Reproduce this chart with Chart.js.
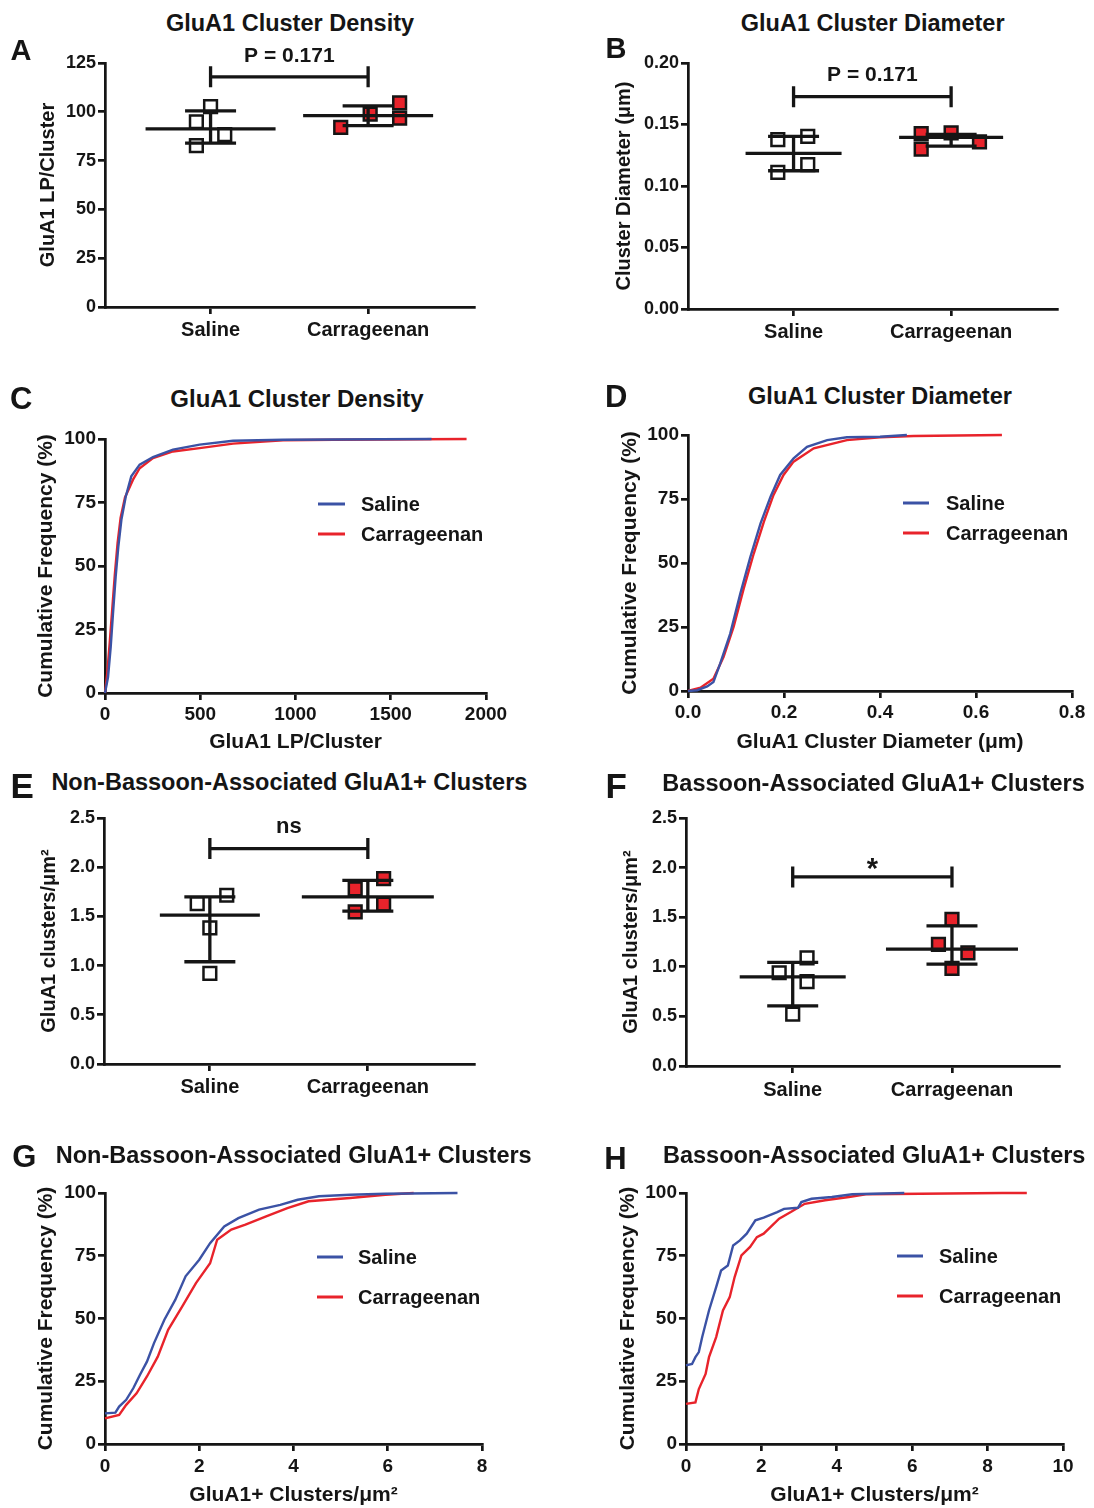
<!DOCTYPE html>
<html>
<head>
<meta charset="utf-8">
<script src="https://cdn.jsdelivr.net/npm/chart.js@4.4.1/dist/chart.umd.min.js"></script>
<style>
  body { margin: 0; background: #fff; width: 1094px; height: 1508px; position: relative; overflow: hidden; }
  canvas { position: absolute; }
  .txt { position: absolute; font-family: "Liberation Sans", Arial, sans-serif; font-weight: bold; color: #151515; line-height: 1; white-space: nowrap; }
</style>
</head>
<body>
<script>
const categories = ['Saline', 'Carrageenan'];

// A - GluA1 LP per cluster, one point per animal
const densSaline = [102.6, 94.9, 88.3, 82.7];
const densCarr = [92.0, 98.8, 104.6, 96.8];
const densMedian = [91.3, 98.0];
const densQ1 = [84.0, 92.9];
const densQ3 = [100.5, 103.0];

// B - cluster diameter (um)
const diamSaline = [0.1377, 0.1404, 0.1111, 0.1173];
const diamCarr = [0.1425, 0.1300, 0.1431, 0.1358];
const diamMedian = [0.1266, 0.1396];
const diamQ1 = [0.1124, 0.1325];
const diamQ3 = [0.1404, 0.1420];

// E - non-bassoon-associated clusters / um2
const nonBsnSaline = [1.63, 1.715, 1.384, 0.92];
const nonBsnCarr = [1.78, 1.546, 1.884, 1.624];
const nonBsnMedian = [1.512, 1.698];
const nonBsnQ1 = [1.039, 1.553];
const nonBsnQ3 = [1.698, 1.867];

// F - bassoon-associated clusters / um2
const bsnSaline = [0.94, 1.09, 0.85, 0.523];
const bsnCarr = [1.477, 1.225, 1.141, 0.983];
const bsnMedian = [0.899, 1.178];
const bsnQ1 = [0.607, 1.027];
const bsnQ3 = [1.044, 1.413];

// significance brackets for A, B, E, F
const sigLabels = ['P = 0.171', 'P = 0.171', 'ns', '*'];
const sigLevels = [117.9, 0.1726, 2.189, 1.906];

// C - cumulative frequency of LP/cluster
const densCdfSalX = [0, 16, 30, 42, 56, 70, 86, 109, 138, 182, 252, 357, 497, 672, 935, 1714];
const densCdfSalY = [0, 6.3, 18.2, 31.3, 45.8, 57.6, 68.2, 77.4, 85.3, 89.9, 92.9, 95.8, 97.8, 99.3, 99.7, 100];
const densCdfCarX = [0, 12, 25, 38, 52, 66, 82, 105, 147, 182, 252, 357, 497, 672, 935, 1198, 1898];
const densCdfCarY = [0, 8, 20, 33, 47, 59, 69, 77, 84, 88.5, 92.5, 95.1, 96.4, 98.2, 99.5, 99.7, 100];

// D - cumulative frequency of diameter
const diamCdfSalX = [0, 0.019, 0.04, 0.053, 0.067, 0.088, 0.109, 0.13, 0.151, 0.172, 0.192, 0.22, 0.248, 0.29, 0.331, 0.4, 0.456];
const diamCdfSalY = [0, 0.3, 1.8, 3.5, 10.7, 22.4, 38.1, 52.4, 65.4, 75.9, 84.4, 90.9, 95.4, 98, 99.1, 99.3, 100];
const diamCdfCarX = [0, 0.026, 0.053, 0.074, 0.095, 0.116, 0.137, 0.158, 0.178, 0.199, 0.22, 0.262, 0.331, 0.4, 0.47, 0.654];
const diamCdfCarY = [0, 1.3, 4.8, 13.3, 25, 40, 53.7, 66.1, 76.5, 84.4, 89.6, 94.8, 98, 99.1, 99.6, 100];

// G - cumulative frequency, non-bassoon-associated
const nonBsnCdfSalX = [0, 0.22, 0.3, 0.45, 0.6, 0.74, 0.89, 1.04, 1.26, 1.49, 1.71, 2.0, 2.23, 2.53, 2.83, 3.27, 3.72, 4.09, 4.54, 5.2, 5.95, 7.48];
const nonBsnCdfSalY = [12.2, 12.5, 14.9, 17.6, 22.2, 27.5, 32.8, 40.2, 49.5, 57.4, 66.8, 73.4, 80, 86.7, 90, 93.4, 95.3, 97.3, 98.7, 99.3, 99.7, 100];
const nonBsnCdfCarX = [0, 0.3, 0.45, 0.67, 0.89, 1.12, 1.34, 1.64, 1.93, 2.23, 2.38, 2.68, 2.98, 3.42, 3.87, 4.32, 5.2, 5.95, 6.55];
const nonBsnCdfCarY = [10.2, 11.6, 15.6, 20.2, 26.9, 34.8, 45.5, 54.8, 64.1, 72, 81.4, 85.4, 87.4, 90.7, 94, 96.7, 98, 99.3, 100];

// H - cumulative frequency, bassoon-associated
const bsnCdfSalX = [0, 0.16, 0.25, 0.34, 0.43, 0.61, 0.8, 0.93, 1.11, 1.25, 1.43, 1.61, 1.84, 2.06, 2.42, 2.6, 2.97, 3.06, 3.33, 3.87, 4.41, 5.79];
const bsnCdfSalY = [31.3, 31.9, 34.6, 36.6, 42.6, 53.2, 62.5, 69.1, 71.1, 79.1, 81.1, 83.8, 89.1, 90.2, 92.4, 93.7, 94.1, 96.4, 97.7, 98.4, 99.5, 100];
const bsnCdfCarX = [0, 0.25, 0.34, 0.52, 0.61, 0.8, 0.98, 1.16, 1.29, 1.47, 1.7, 1.88, 2.06, 2.24, 2.47, 2.78, 3.15, 3.69, 4.32, 4.77, 8.39, 9.04];
const bsnCdfCarY = [16, 16.6, 21.9, 27.9, 34.6, 42.6, 53.2, 58.5, 66.5, 75.1, 78.5, 82.4, 83.8, 86.4, 89.8, 92.4, 95.7, 97.1, 98.4, 99.5, 100, 100];

const panelLetters = ['A', 'B', 'C', 'D', 'E', 'F', 'G', 'H'];
const panelTitles = ['GluA1 Cluster Density', 'GluA1 Cluster Diameter', 'GluA1 Cluster Density', 'GluA1 Cluster Diameter',
  'Non-Bassoon-Associated GluA1+ Clusters', 'Bassoon-Associated GluA1+ Clusters',
  'Non-Bassoon-Associated GluA1+ Clusters', 'Bassoon-Associated GluA1+ Clusters'];

const FONT = '"Liberation Sans", Arial, sans-serif';
const INK = '#151515';
const BLUE = '#3b52a5';
const RED = '#e8232b';

function bold(size) {
  return { family: FONT, size: size, weight: 'bold' };
}

// median + interquartile range and the significance bracket
const summaryPlugin = {
  id: 'summary',
  afterDatasetsDraw(chart, args, o) {
    const ctx = chart.ctx;
    const x = chart.scales.x, y = chart.scales.y;
    ctx.save();
    ctx.strokeStyle = INK;
    ctx.lineWidth = 3.3;
    o.median.forEach((m, g) => {
      const cx = x.getPixelForValue(g + 1);
      const half = o.medianHalf[g];
      const ym = y.getPixelForValue(m);
      const y1 = y.getPixelForValue(o.q1[g]);
      const y3 = y.getPixelForValue(o.q3[g]);
      ctx.beginPath();
      ctx.moveTo(cx - half, ym); ctx.lineTo(cx + half, ym);
      ctx.moveTo(cx, y1); ctx.lineTo(cx, y3);
      ctx.moveTo(cx - 25.5, y1); ctx.lineTo(cx + 25.5, y1);
      ctx.moveTo(cx - 25.5, y3); ctx.lineTo(cx + 25.5, y3);
      ctx.stroke();
    });
    const bx0 = x.getPixelForValue(1), bx1 = x.getPixelForValue(2);
    const by = y.getPixelForValue(o.sigLevel);
    ctx.beginPath();
    ctx.moveTo(bx0, by); ctx.lineTo(bx1, by);
    ctx.moveTo(bx0, by - 10.5); ctx.lineTo(bx0, by + 10.5);
    ctx.moveTo(bx1, by - 10.5); ctx.lineTo(bx1, by + 10.5);
    ctx.stroke();
    ctx.fillStyle = INK;
    ctx.font = 'bold ' + o.sigSize + 'px ' + FONT;
    ctx.textAlign = 'center';
    ctx.textBaseline = 'alphabetic';
    ctx.fillText(o.sigLabel, (bx0 + bx1) / 2, by - o.sigGap);
    ctx.restore();
  }
};

// legend inside the plot area of the cumulative plots
const cdfLegend = {
  id: 'cdfLegend',
  afterDraw(chart, args, o) {
    const ctx = chart.ctx, a = chart.chartArea;
    ctx.save();
    ctx.font = 'bold 20px ' + FONT;
    ctx.textBaseline = 'middle';
    ctx.textAlign = 'left';
    chart.data.datasets.forEach((ds, i) => {
      const yy = a.top + o.top + i * o.gap;
      const x0 = a.left + o.left;
      ctx.strokeStyle = ds.borderColor;
      ctx.lineWidth = 3;
      ctx.beginPath(); ctx.moveTo(x0, yy); ctx.lineTo(x0 + o.len, yy); ctx.stroke();
      ctx.fillStyle = INK;
      ctx.fillText(ds.label, x0 + o.len + o.textGap, yy + 1);
    });
    ctx.restore();
  }
};

function addCanvas(box) {
  const c = document.createElement('canvas');
  c.width = box.w;
  c.height = box.h;
  c.style.left = box.x + 'px';
  c.style.top = box.y + 'px';
  document.body.appendChild(c);
  return c;
}

function axisLine() {
  return {
    grid: { display: true, drawOnChartArea: false, drawTicks: true, tickLength: 7, lineWidth: 2.7, color: INK },
    border: { display: true, width: 2.7, color: INK }
  };
}

function yScale(p) {
  return Object.assign({
    type: 'linear', min: p.yMin, max: p.yMax,
    ticks: { stepSize: p.yStep, font: bold(p.tickSize), color: INK, padding: 2, callback: v => v.toFixed(p.yDec) },
    title: { display: true, text: p.yTitle, font: bold(p.titleSize), color: INK, padding: { top: p.yTitlePad, bottom: 0 } },
    afterFit: s => { s.width = p.yw; }
  }, axisLine());
}

function dotChart(p) {
  const canvas = addCanvas(p.box);
  const datasets = [p.saline, p.carr].map((vals, g) => ({
    label: categories[g],
    data: vals.map((v, i) => ({ x: g + 1 + p.jitter[g][i], y: v })),
    pointStyle: 'rect',
    pointRadius: 9,
    pointHoverRadius: 9,
    pointBackgroundColor: g ? RED : '#ffffff',
    pointBorderColor: INK,
    pointBorderWidth: 2.5,
    showLine: false,
    clip: false
  }));
  return new Chart(canvas, {
    type: 'scatter',
    data: { datasets: datasets },
    options: {
      responsive: false,
      animation: false,
      layout: { padding: { top: p.padTop, right: p.padRight, left: 0, bottom: 0 } },
      scales: {
        x: Object.assign({
          type: 'linear', min: 0.33, max: 2.672,
          afterBuildTicks: s => { s.ticks = categories.map((c, i) => ({ value: i + 1 })); },
          ticks: { font: bold(20), color: INK, padding: p.xPad, callback: v => categories[v - 1] },
          afterFit: s => { s.height = p.xh; }
        }, axisLine()),
        y: yScale(Object.assign({ titleSize: 20, tickSize: 18 }, p))
      },
      plugins: {
        legend: { display: false },
        tooltip: { enabled: false },
        summary: {
          median: p.median, q1: p.q1, q3: p.q3, medianHalf: p.medianHalf,
          sigLevel: p.sigLevel, sigLabel: p.sigLabel, sigGap: p.sigGap, sigSize: p.sigSize
        }
      }
    },
    plugins: [summaryPlugin]
  });
}

function cdfChart(p) {
  const canvas = addCanvas(p.box);
  const series = [[p.salX, p.salY, BLUE], [p.carX, p.carY, RED]];
  const datasets = series.map((s, g) => ({
    label: categories[g],
    data: s[0].map((xv, i) => ({ x: xv, y: s[1][i] })),
    borderColor: s[2],
    backgroundColor: s[2],
    borderWidth: 2.4,
    pointRadius: 0,
    showLine: true,
    tension: 0,
    clip: false
  }));
  return new Chart(canvas, {
    type: 'scatter',
    data: { datasets: datasets },
    options: {
      responsive: false,
      animation: false,
      layout: { padding: { top: p.padTop, right: p.padRight, left: 0, bottom: 0 } },
      scales: {
        x: Object.assign({
          type: 'linear', min: 0, max: p.xMax,
          ticks: { stepSize: p.xStep, font: bold(19), color: INK, padding: p.xPad, callback: v => v.toFixed(p.xDec) },
          title: { display: true, text: p.xTitle, font: bold(21), color: INK, padding: { top: 0, bottom: p.xTitlePad } },
          afterFit: s => { s.height = p.xh; }
        }, axisLine()),
        y: yScale(p)
      },
      plugins: {
        legend: { display: false },
        tooltip: { enabled: false },
        cdfLegend: p.legend
      }
    },
    plugins: [cdfLegend]
  });
}

const cdfY = { yMin: 0, yMax: 100, yStep: 25, yDec: 0, tickSize: 19, titleSize: 21, yTitle: 'Cumulative Frequency (%)' };

// A
dotChart({
  box: { x: 0, y: 40, w: 545, h: 310 }, yw: 105, padTop: 23, padRight: 71, xh: 43, xPad: 4,
  yMin: 0, yMax: 125, yStep: 25, yDec: 0, yTitle: 'GluA1 LP/Cluster', yTitlePad: 36,
  saline: densSaline, carr: densCarr, jitter: [[0, -0.09, 0.09, -0.09], [-0.174, 0.013, 0.2, 0.2]],
  median: densMedian, q1: densQ1, q3: densQ3, medianHalf: [65, 65],
  sigLevel: sigLevels[0], sigLabel: sigLabels[0], sigGap: 14.7, sigSize: 21
});

// B
dotChart({
  box: { x: 560, y: 40, w: 534, h: 310 }, yw: 128, padTop: 23, padRight: 37, xh: 41, xPad: 4.3,
  yMin: 0, yMax: 0.2, yStep: 0.05, yDec: 2, yTitle: 'Cluster Diameter (μm)', yTitlePad: 52.6,
  saline: diamSaline, carr: diamCarr, jitter: [[-0.1, 0.09, -0.1, 0.09], [-0.19, -0.19, 0, 0.18]],
  median: diamMedian, q1: diamQ1, q3: diamQ3, medianHalf: [48, 52],
  sigLevel: sigLevels[1], sigLabel: sigLabels[1], sigGap: 15.5, sigSize: 21
});

// C
cdfChart(Object.assign({}, cdfY, {
  box: { x: 0, y: 415, w: 545, h: 345 }, yw: 105, padTop: 24, padRight: 59, xh: 67, xPad: 3.6,
  yTitlePad: 33.4, xMax: 2000, xStep: 500, xDec: 0, xTitle: 'GluA1 LP/Cluster', xTitlePad: 5.4,
  salX: densCdfSalX, salY: densCdfSalY, carX: densCdfCarX, carY: densCdfCarY,
  legend: { left: 213, top: 65, gap: 30, len: 27, textGap: 16 }
}));

// D
cdfChart(Object.assign({}, cdfY, {
  box: { x: 580, y: 410, w: 514, h: 350 }, yw: 108, padTop: 25, padRight: 22, xh: 69, xPad: 3.6,
  yTitlePad: 37.4, xMax: 0.8, xStep: 0.2, xDec: 1, xTitle: 'GluA1 Cluster Diameter (μm)', xTitlePad: 5.4,
  salX: diamCdfSalX, salY: diamCdfSalY, carX: diamCdfCarX, carY: diamCdfCarY,
  legend: { left: 215, top: 68, gap: 30, len: 26, textGap: 17 }
}));

// E
dotChart({
  box: { x: 0, y: 795, w: 545, h: 315 }, yw: 104, padTop: 23, padRight: 71, xh: 46, xPad: 4.3,
  yMin: 0, yMax: 2.5, yStep: 0.5, yDec: 1, yTitle: 'GluA1 clusters/μm²', yTitlePad: 37,
  saline: nonBsnSaline, carr: nonBsnCarr, jitter: [[-0.08, 0.107, 0, 0], [-0.08, -0.08, 0.1, 0.1]],
  median: nonBsnMedian, q1: nonBsnQ1, q3: nonBsnQ3, medianHalf: [50, 66],
  sigLevel: sigLevels[2], sigLabel: sigLabels[2], sigGap: 15.5, sigSize: 22
});

// F
dotChart({
  box: { x: 560, y: 795, w: 534, h: 315 }, yw: 126, padTop: 23, padRight: 35, xh: 44, xPad: 5.6,
  yMin: 0, yMax: 2.5, yStep: 0.5, yDec: 1, yTitle: 'GluA1 clusters/μm²', yTitlePad: 59,
  saline: bsnSaline, carr: bsnCarr, jitter: [[-0.085, 0.09, 0.09, 0], [0, -0.085, 0.1, 0]],
  median: bsnMedian, q1: bsnQ1, q3: bsnQ3, medianHalf: [53, 66],
  sigLevel: sigLevels[3], sigLabel: sigLabels[3], sigGap: -1, sigSize: 29
});

// G
cdfChart(Object.assign({}, cdfY, {
  box: { x: 0, y: 1170, w: 545, h: 338 }, yw: 105, padTop: 23, padRight: 63, xh: 64, xPad: 4.3,
  yTitlePad: 33.8, xMax: 8, xStep: 2, xDec: 0, xTitle: 'GluA1+ Clusters/μm²', xTitlePad: 0,
  salX: nonBsnCdfSalX, salY: nonBsnCdfSalY, carX: nonBsnCdfCarX, carY: nonBsnCdfCarY,
  legend: { left: 212, top: 64, gap: 40, len: 26, textGap: 15 }
}));

// H
cdfChart(Object.assign({}, cdfY, {
  box: { x: 560, y: 1170, w: 534, h: 338 }, yw: 126, padTop: 23, padRight: 31, xh: 64, xPad: 4.3,
  yTitlePad: 55.4, xMax: 10, xStep: 2, xDec: 0, xTitle: 'GluA1+ Clusters/μm²', xTitlePad: 0,
  salX: bsnCdfSalX, salY: bsnCdfSalY, carX: bsnCdfCarX, carY: bsnCdfCarY,
  legend: { left: 211, top: 63, gap: 40, len: 26, textGap: 16 }
}));

// panel letters and headings
const letterPos = [[10.5, 40, 29], [605.5, 38, 29], [10, 387, 31], [605, 385, 31], [10.5, 773, 35], [605.5, 773, 35], [12.3, 1145, 31], [604.3, 1147, 31]];
const titlePos = [[290, 15, 23.5], [872.7, 15, 23.5], [297, 390, 24], [880, 388, 23.5], [289.4, 774, 23.5], [873.6, 775, 23.5], [293.7, 1147, 23.5], [874.2, 1147, 23.5]];

function addText(text, left, capTop, size, center) {
  const d = document.createElement('div');
  d.className = 'txt';
  d.textContent = text;
  d.style.fontSize = size + 'px';
  d.style.left = left + 'px';
  d.style.top = (capTop - 0.13 * size) + 'px';
  if (center) d.style.transform = 'translateX(-50%)';
  document.body.appendChild(d);
}

panelLetters.forEach((l, i) => addText(l, letterPos[i][0], letterPos[i][1], letterPos[i][2], false));
panelTitles.forEach((t, i) => addText(t, titlePos[i][0], titlePos[i][1], titlePos[i][2], true));
</script>
</body>
</html>
